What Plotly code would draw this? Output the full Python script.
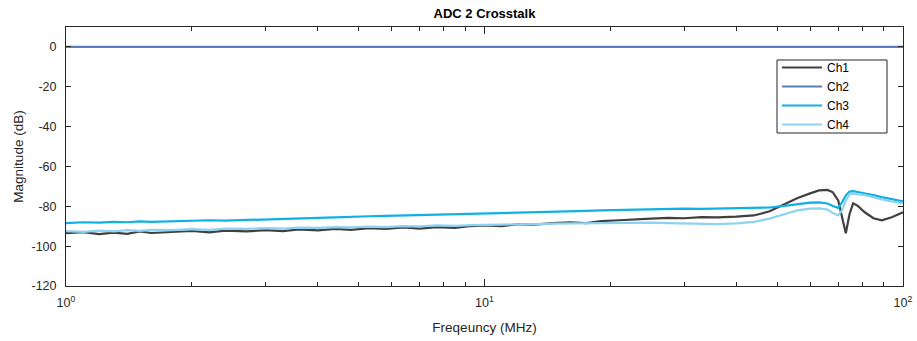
import plotly.graph_objects as go

# Frequency (MHz)
freq = [1.0, 1.1, 1.2, 1.3, 1.4, 1.5, 1.6, 1.8, 2.0, 2.2, 2.4, 2.7, 3.0, 3.3, 3.6,
        4.0, 4.4, 4.8, 5.3, 5.8, 6.4, 7.0, 7.7, 8.5, 9.3, 10, 11, 12, 13, 14.5,
        16, 17.5, 19, 21, 23, 25, 27.5, 30, 33, 36, 40, 44, 48, 52, 56, 60, 63,
        66, 68, 70, 71.5, 73, 74.5, 76, 78, 81, 85, 89, 94, 100]

ch1 = [-93.5, -93.0, -94.0, -93.2, -93.8, -92.6, -93.4, -93.0, -92.4, -93.1, -92.2, -92.6,
       -92.0, -92.5, -91.6, -92.1, -91.3, -91.8, -91.0, -91.4, -90.6, -91.2, -90.4, -90.8,
       -89.9, -89.6, -89.9, -89.0, -89.3, -88.4, -88.0, -88.4, -87.4, -87.0, -86.4, -86.2,
       -85.8, -86.0, -85.4, -85.6, -85.2, -84.6, -82.5, -79.0, -75.8, -73.5, -72.0,
       -71.8, -73.0, -77.0, -86.0, -93.5, -84.0, -78.5, -79.8, -83.0, -86.0, -87.0, -85.5, -83.0]

ch2 = [0.0] * len(freq)

ch3 = [-88.4, -88.0, -88.2, -87.8, -88.0, -87.6, -87.8, -87.4, -87.4, -87.0, -87.2, -86.8,
       -86.6, -86.4, -86.2, -85.8, -85.6, -85.2, -85.0, -84.8, -84.6, -84.4, -84.0, -83.8,
       -83.6, -83.4, -83.2, -83.0, -82.8, -82.6, -82.4, -82.3, -82.0, -81.8, -81.6, -81.4,
       -81.4, -81.2, -81.3, -81.2, -81.1, -81.0, -80.6, -79.8, -78.8, -78.2, -78.0,
       -78.6, -79.8, -80.8, -78.0, -74.5, -72.6, -72.4, -72.8, -73.4, -74.4, -75.4, -76.4, -77.5]

ch4 = [-92.5, -92.8, -92.2, -92.6, -92.0, -92.3, -91.8, -92.0, -91.5, -91.8, -91.2, -91.3,
       -91.0, -91.2, -90.7, -90.8, -90.4, -90.6, -90.2, -90.4, -89.9, -90.1, -89.6, -89.8,
       -89.4, -89.4, -89.2, -89.0, -89.1, -88.7, -88.6, -88.8, -88.4, -88.5, -88.3, -88.2,
       -88.4, -88.5, -88.7, -88.9, -88.6, -87.8, -86.2, -84.0, -82.0, -81.2, -81.0,
       -81.6, -83.4, -84.6, -82.0, -77.0, -74.0, -73.6, -73.8, -74.4, -75.4, -76.6, -77.6, -78.5]

names = ["Ch1", "Ch2", "Ch3", "Ch4"]
series = [ch1, ch2, ch3, ch4]
colors = ["#404040", "#5B7FBE", "#0FB0E6", "#8ED2F2"]

yticks = [0, -20, -40, -60, -80, -100, -120]
yticktext = ["0", "-20", "-40", "-60", "-80", "-100", "-120"]
xticks = [1, 10, 100]
xticktext = ["10<sup>0</sup>", "10<sup>1</sup>", "10<sup>2</sup>"]
xminor = [2, 3, 4, 5, 6, 7, 8, 9, 20, 30, 40, 50, 60, 70, 80, 90]

FONT = "Liberation Sans, Arial"

W, H = 917, 341
ML, MR, MT, MB = 66, 14, 27, 55
PW, PH = W - ML - MR, H - MT - MB

fig = go.Figure()
for n, s, c in zip(names, series, colors):
    fig.add_trace(go.Scatter(x=freq, y=s, mode="lines", name=n,
                             line=dict(color=c, width=2.2)))

axis_common = dict(showline=True, linecolor="#262626", linewidth=1, mirror="ticks",
                   ticks="inside", tickcolor="#262626", showgrid=False, zeroline=False,
                   automargin=False, ticklabeloverflow="allow",
                   tickfont=dict(family=FONT, size=12.5, color="#262626"))

# legend frame (pixel box in the window, converted to paper coordinates)
box_l, box_r, box_t, box_b = 777, 887, 60, 133

fig.update_layout(
    width=W, height=H,
    margin=dict(l=ML, r=MR, t=MT, b=MB),
    paper_bgcolor="white", plot_bgcolor="white",
    title=dict(text="<b>ADC 2 Crosstalk</b>", x=(ML + PW / 2) / W, xanchor="center",
               y=1 - 13 / H, yanchor="middle",
               font=dict(family=FONT, size=13, color="#000000")),
    xaxis=dict(type="log", range=[0, 2], tickvals=xticks, ticktext=xticktext, ticklen=7,
               ticklabelstandoff=5,
               minor=dict(tickvals=xminor, ticks="inside", ticklen=4, tickcolor="#262626"),
               title=dict(text="Freqeuncy (MHz)", standoff=13,
                          font=dict(family=FONT, size=13.5, color="#262626")),
               **axis_common),
    yaxis=dict(range=[-120, 10], tickvals=yticks, ticktext=yticktext, ticklen=5,
               ticklabelstandoff=6,
               title=dict(text="Magnitude (dB)", standoff=4,
                          font=dict(family=FONT, size=13.5, color="#262626")),
               **axis_common),
    legend=dict(x=(box_l - ML) / PW, y=(MT + PH - 53) / PH, xanchor="left", yanchor="top",
                borderwidth=0, bgcolor="rgba(0,0,0,0)",
                font=dict(family=FONT, size=12, color="#000000"),
                tracegroupgap=0, itemwidth=40),
    shapes=[dict(type="rect", xref="paper", yref="paper", layer="above",
                 x0=(box_l - ML) / PW, x1=(box_r - ML) / PW,
                 y0=(MT + PH - box_b) / PH, y1=(MT + PH - box_t) / PH,
                 line=dict(color="#262626", width=1), fillcolor="white")],
    showlegend=True,
)

fig.write_html("out.html", config={"displayModeBar": False},
               post_script="document.body.style.margin='0';document.body.style.overflow='hidden';")
